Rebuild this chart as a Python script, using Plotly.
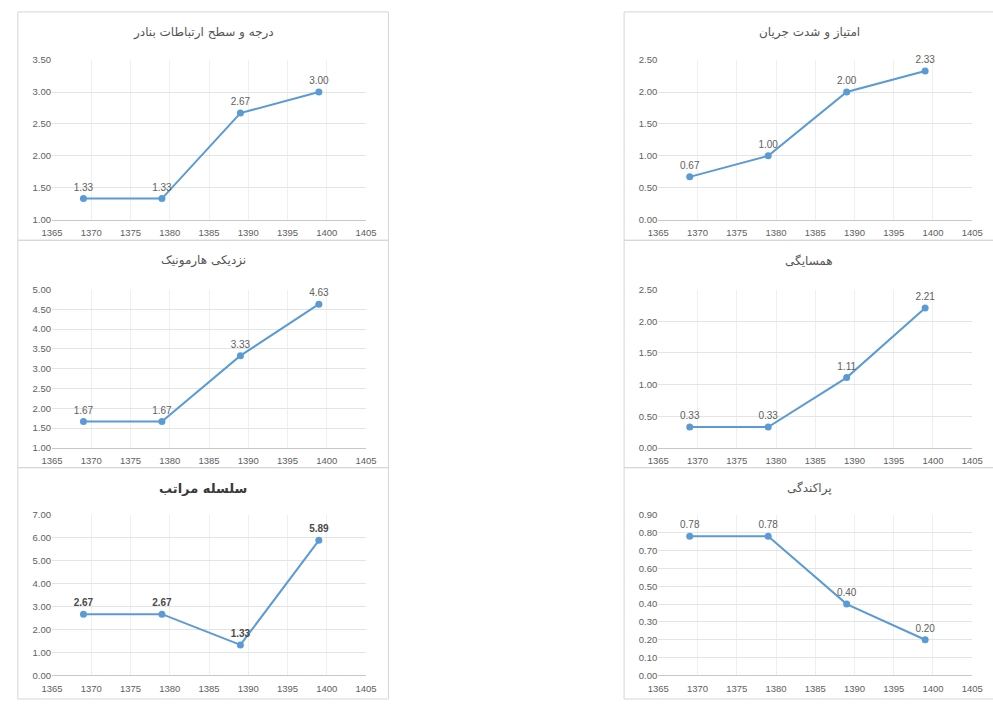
import plotly.graph_objects as go

# Survey years (Solar Hijri) and index values per measure
years = [1369, 1379, 1389, 1399]
degree = [1.33, 1.33, 2.67, 3.00]
flow = [0.67, 1.00, 2.00, 2.33]
harmonic = [1.67, 1.67, 3.33, 4.63]
neighbor = [0.33, 0.33, 1.11, 2.21]
hierarchy = [2.67, 2.67, 1.33, 5.89]
dispersion = [0.78, 0.78, 0.40, 0.20]

titles = [
    "درجه و سطح ارتباطات بنادر",
    "امتیاز و شدت جریان",
    "نزدیکی هارمونیک",
    "همسایگی",
    "سلسله مراتب",
    "پراکندگی",
]
series = [degree, flow, harmonic, neighbor, hierarchy, dispersion]
y_ranges = [(1, 3.5, 0.5), (0, 2.5, 0.5), (1, 5, 0.5), (0, 2.5, 0.5), (0, 7, 1), (0, 0.9, 0.1)]
x_ticks = [1365, 1370, 1375, 1380, 1385, 1390, 1395, 1400, 1405]

W, H = 993, 704
LINE = "#5b9bd5"
GRID = "#e4e4e4"
TXT = "#606060"
BORDER = "#d6d6d6"

# pixel layout: plot areas and chart boxes
col_plot = [(42, 363), (662, 983)]
col_box = [(7, 386), (627, 1006)]
row_plot = [(55, 217), (288, 449), (517, 680)]
row_box = [(6, 238), (238, 469), (469, 704)]


def fx(px):
    return px / W


def fy(py):
    return 1 - py / H


fig = go.Figure()
layout = dict(
    width=W, height=H, margin=dict(l=0, r=0, t=0, b=0),
    paper_bgcolor="white", plot_bgcolor="white", showlegend=False,
    font=dict(family="Liberation Sans, Arial, sans-serif", color=TXT, size=9),
)
annotations = []
shapes = []

for i, (title, vals, (y0, y1, dy)) in enumerate(zip(titles, series, y_ranges)):
    row, col = divmod(i, 2)
    idx = i + 1
    xa = "x" if idx == 1 else f"x{idx}"
    ya = "y" if idx == 1 else f"y{idx}"
    bold = i == 4
    fig.add_trace(go.Scatter(
        x=years, y=vals, xaxis=xa, yaxis=ya,
        mode="lines+markers+text",
        line=dict(color=LINE, width=2),
        marker=dict(color=LINE, size=7),
        texttemplate="<b>%{y:.2f}</b>" if bold else "%{y:.2f}",
        textposition="top center",
        textfont=dict(size=10, color="#4a4a4a" if bold else TXT),
        cliponaxis=False,
        hoverinfo="skip",
    ))
    px0, px1 = col_plot[col]
    py0, py1 = row_plot[row]
    layout["xaxis" if idx == 1 else f"xaxis{idx}"] = dict(
        domain=[fx(px0), fx(px1)], anchor=ya,
        range=[1365, 1405], tickvals=x_ticks, ticks="",
        showgrid=True, gridcolor="#efefef", gridwidth=1,
        showline=True, linecolor="#c8c8c8", linewidth=1,
        zeroline=False, tickfont=dict(size=9.5, color=TXT, family="Liberation Sans, Arial"),
        ticklabelstandoff=4, fixedrange=True,
    )
    layout["yaxis" if idx == 1 else f"yaxis{idx}"] = dict(
        domain=[fy(py1), fy(py0)], anchor=xa,
        range=[y0, y1], dtick=dy, tick0=y0, tickformat=".2f", ticks="",
        showgrid=True, gridcolor=GRID, gridwidth=1,
        showline=False, zeroline=False,
        tickfont=dict(size=9.5, color=TXT, family="Liberation Sans, Arial"),
        fixedrange=True,
    )
    bx0, bx1 = col_box[col]
    by0, by1 = row_box[row]
    shapes.append(dict(
        type="rect", xref="paper", yref="paper",
        x0=fx(bx0), x1=fx(bx1), y0=fy(by1), y1=fy(by0),
        line=dict(color=BORDER, width=1), fillcolor="rgba(0,0,0,0)", layer="below",
    ))
    annotations.append(dict(
        text=f"<b>{title}</b>" if bold else title,
        xref="paper", yref="paper",
        x=fx((bx0 + bx1) / 2), y=fy(by0 + 21),
        xanchor="center", yanchor="middle", showarrow=False,
        font=dict(family="DejaVu Sans, Noto Sans, sans-serif",
                  size=13 if bold else 12, color="#3a3a3a" if bold else "#555555"),
    ))

layout["annotations"] = annotations
layout["shapes"] = shapes
fig.update_layout(**layout)
fig.write_html("out.html")
